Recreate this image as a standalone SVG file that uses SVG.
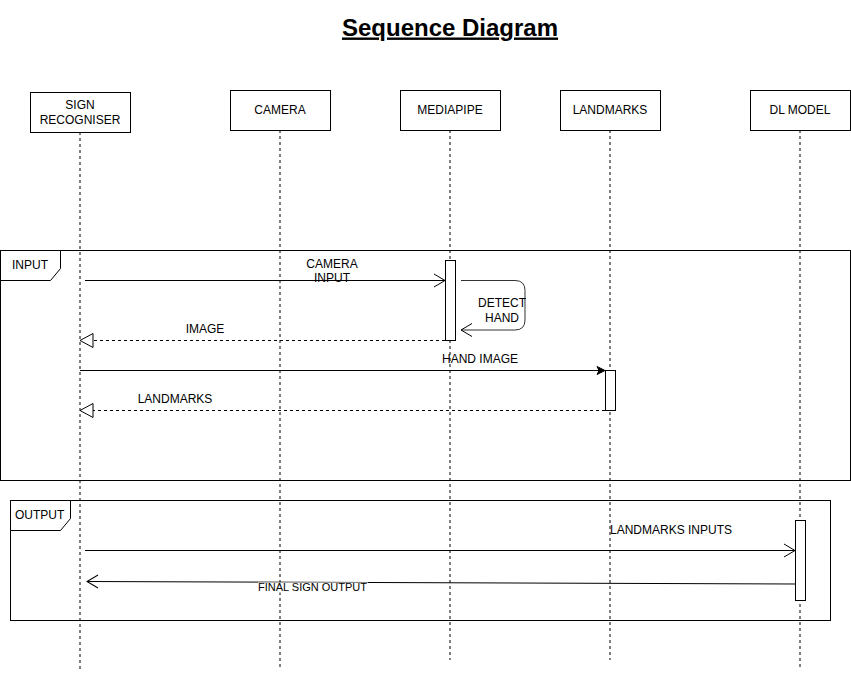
<svg xmlns="http://www.w3.org/2000/svg" width="851" height="673" viewBox="0 0 851 673">
<style>
text{font-family:"Liberation Sans",Arial,sans-serif;font-size:12px;fill:#000}
.box{fill:#fff;stroke:#000;stroke-width:1}
.life{stroke:#000;stroke-width:1;stroke-dasharray:3 3;fill:none}
.frame{fill:none;stroke:#000;stroke-width:1}
.tab{fill:#fff;stroke:#000;stroke-width:1}
.act{fill:#fff;stroke:#000;stroke-width:1}
.msg{stroke:#000;stroke-width:1;fill:none}
.ret{stroke:#000;stroke-width:1;fill:none;stroke-dasharray:3 3}
.c{text-anchor:middle}
</style>
<defs>
<marker id="open" markerUnits="userSpaceOnUse" markerWidth="14" markerHeight="16" refX="11" refY="7" orient="auto" overflow="visible">
<path d="M0,0.5 L11,7 L0,13.5" fill="none" stroke="#000" stroke-width="1"/>
</marker>
<marker id="hollow" markerUnits="userSpaceOnUse" markerWidth="16" markerHeight="16" refX="13" refY="7" orient="auto" overflow="visible">
<path d="M0,0 L13,7 L0,14 Z" fill="#fff" stroke="#000" stroke-width="1"/>
</marker>
<marker id="filled" markerUnits="userSpaceOnUse" markerWidth="10" markerHeight="10" refX="8" refY="4" orient="auto" overflow="visible">
<path d="M0,0 L8,4 L0,8 L2,4 Z" fill="#000" stroke="#000" stroke-width="1"/>
</marker>
</defs>
<rect width="851" height="673" fill="#fff"/>
<text x="450" y="35.5" class="c" style="font-size:24px;font-weight:bold;text-decoration:underline">Sequence Diagram</text>

<g id="lifelines">
<line class="life" x1="80" y1="132" x2="80" y2="670"/>
<line class="life" x1="280" y1="130" x2="280" y2="667"/>
<line class="life" x1="450" y1="130" x2="450" y2="660"/>
<line class="life" x1="610" y1="130" x2="610" y2="660"/>
<line class="life" x1="800" y1="130" x2="800" y2="667"/>
</g>

<g id="frame-input">
<rect class="frame" x="0.5" y="250.5" width="850" height="230"/>
<path class="tab" d="M0.5,280.5 L0.5,250.5 L60.5,250.5 L60.5,268.5 L50.5,280.5 Z"/>
<text x="12" y="269">INPUT</text>
</g>
<g id="frame-output">
<rect class="frame" x="10.5" y="500.5" width="820" height="120"/>
<path class="tab" d="M10.5,530.5 L10.5,500.5 L70.5,500.5 L70.5,518.5 L60.5,530.5 Z"/>
<text x="15" y="519">OUTPUT</text>
</g>

<g id="node-sign"><rect class="box" x="30.5" y="92.5" width="100" height="40"/><text x="80" y="109" class="c">SIGN</text><text x="80" y="124" class="c">RECOGNISER</text></g>
<g id="node-camera"><rect class="box" x="230.5" y="90.5" width="100" height="40"/><text x="280" y="114" class="c">CAMERA</text></g>
<g id="node-mediapipe"><rect class="box" x="400.5" y="90.5" width="100" height="40"/><text x="450" y="114" class="c">MEDIAPIPE</text></g>
<g id="node-landmarks"><rect class="box" x="560.5" y="90.5" width="100" height="40"/><text x="610" y="114" class="c">LANDMARKS</text></g>
<g id="node-dlmodel"><rect class="box" x="750.5" y="90.5" width="100" height="40"/><text x="800" y="114" class="c">DL MODEL</text></g>

<g id="activations">
<rect class="act" x="445.5" y="260.5" width="10" height="80"/>
<rect class="act" x="605.5" y="370.5" width="10" height="40"/>
<rect class="act" x="795.5" y="520.5" width="10" height="80"/>
</g>

<g id="connectors">
<line class="msg" x1="85" y1="280.5" x2="445" y2="280.5" marker-end="url(#open)"/>
<text x="332" y="268" class="c">CAMERA</text><text x="332" y="282" class="c">INPUT</text>

<path class="msg" style="stroke:#333" d="M461,280.5 L515,280.5 Q525,280.5 525,290.5 L525,320 Q525,330 515,330 L461,330" marker-end="url(#open)"/>
<text x="502" y="307" class="c">DETECT</text><text x="502" y="322" class="c">HAND</text>

<line class="ret" x1="445" y1="340.5" x2="80" y2="340.5" marker-end="url(#hollow)"/>
<text x="205" y="333" class="c">IMAGE</text>

<line class="msg" x1="80" y1="370.5" x2="605" y2="370.5" marker-end="url(#filled)"/>
<text x="480" y="363" class="c">HAND IMAGE</text>

<line class="ret" x1="605" y1="410.5" x2="80" y2="410.5" marker-end="url(#hollow)"/>
<text x="175" y="403" class="c">LANDMARKS</text>

<line class="msg" x1="85" y1="550.5" x2="795" y2="550.5" marker-end="url(#open)"/>
<text x="610" y="534">LANDMARKS INPUTS</text>

<line class="msg" x1="795" y1="584" x2="87" y2="581.5" marker-end="url(#open)"/>
<rect x="258" y="582.5" width="110" height="10" fill="#fff"/>
<text x="258" y="591" style="font-size:11px">FINAL SIGN OUTPUT</text>
</g>
</svg>
